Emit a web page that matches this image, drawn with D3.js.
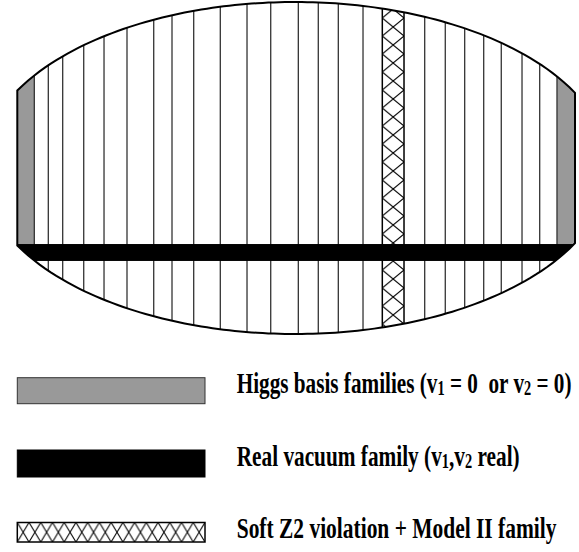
<!DOCTYPE html>
<html>
<head>
<meta charset="utf-8">
<script src="https://cdn.jsdelivr.net/npm/d3@7"></script>
<style>
  body { margin: 0; background: #fff; }
  svg { display: block; }
</style>
</head>
<body>
<svg id="chart" width="579" height="552"></svg>
<script>
// positions across the shape: 0 = left edge, 100 = right edge
var lineXs = [3.05, 5.56, 8.14, 11.91, 15.55, 19.67, 24.46, 27.74, 31.63, 36.40,
              41.19, 45.44, 50.39, 53.97, 57.56, 61.99, 73.05, 76.74, 80.22,
              83.63, 86.78, 90.50, 93.67, 96.77];
var grayStrips = [[0, 3.05], [96.77, 100]];
var hatchStrip = [65.45, 69.34];
// vertical position in ellipse units (1 = top, -1 = bottom)
var realBand = [-0.458, -0.56];

// legend
var legendKinds = ["gray", "black", "hatch"];
var legendLabels = [
  [["Higgs basis families (v", ""], ["1", "sub"], [" = 0  or v", ""], ["2", "sub"], [" = 0)", ""]],
  [["Real vacuum family (v", ""], ["1", "sub"], [",v", ""], ["2", "sub"], [" real)", ""]],
  [["Soft Z2 violation + Model II family", ""]]
];
var legendWidths = [335, 283, 320];

var svg = d3.select("#chart");

// scales
var xScale = d3.scaleLinear().domain([0, 100]).range([17.3, 575]);
var yScale = d3.scaleLinear().domain([1, -1]).range([2, 334]);

// ellipse geometry (pixels)
var cx = 295, ra = 314;
var cy = yScale(0), rb = yScale(-1) - yScale(0);
function half(px) {
  var u = (px - cx) / ra;
  return rb * Math.sqrt(Math.max(0, 1 - u * u));
}
function yTop(px) { return cy - half(px); }
function yBot(px) { return cy + half(px); }

var samples = d3.range(0, 101, 1).map(function(d) { return xScale(d); });
var outline = [];
samples.forEach(function(px) { outline.push([px, yBot(px)]); });
samples.slice().reverse().forEach(function(px) { outline.push([px, yTop(px)]); });
var shapePath = d3.line()(outline) + "Z";

var defs = svg.append("defs");
defs.append("clipPath").attr("id", "shapeClip")
  .append("path").attr("d", shapePath);

function addHatch(id, x, y, w, h) {
  var p = defs.append("pattern")
    .attr("id", id)
    .attr("patternUnits", "userSpaceOnUse")
    .attr("x", x).attr("y", y)
    .attr("width", w).attr("height", h);
  p.append("rect").attr("width", w).attr("height", h).attr("fill", "#fff");
  p.append("path")
    .attr("d", "M0,0L" + w + "," + h + "M" + w + ",0L0," + h)
    .attr("stroke", "#000").attr("stroke-width", 1.1).attr("fill", "none");
}

var hx0 = xScale(hatchStrip[0]), hx1 = xScale(hatchStrip[1]);
addHatch("hatchStrip", hx0, 0, hx1 - hx0, 18);

var inner = svg.append("g").attr("clip-path", "url(#shapeClip)");

// gray Higgs basis strips
inner.selectAll("rect.gray")
  .data(grayStrips)
  .enter().append("rect")
  .attr("class", "gray")
  .attr("x", function(d) { return xScale(d[0]); })
  .attr("width", function(d) { return xScale(d[1]) - xScale(d[0]); })
  .attr("y", 0).attr("height", 340)
  .attr("fill", "#999");

// vertical lines
inner.selectAll("line.v")
  .data(lineXs)
  .enter().append("line")
  .attr("class", "v")
  .attr("x1", function(d) { return xScale(d); })
  .attr("x2", function(d) { return xScale(d); })
  .attr("y1", 0).attr("y2", 340)
  .attr("stroke", "#333").attr("stroke-width", 1.3);

// hatched strip
inner.append("rect")
  .attr("x", hx0).attr("width", hx1 - hx0)
  .attr("y", 0).attr("height", 340)
  .attr("fill", "url(#hatchStrip)")
  .attr("stroke", "#000").attr("stroke-width", 1.5);

// real vacuum band
inner.append("rect")
  .attr("x", 0).attr("width", 579)
  .attr("y", yScale(realBand[0]))
  .attr("height", yScale(realBand[1]) - yScale(realBand[0]))
  .attr("fill", "#000");

// outline
svg.append("path")
  .attr("d", shapePath)
  .attr("fill", "none")
  .attr("stroke", "#000")
  .attr("stroke-width", 2);

// legend
var legendY = [377.7, 450, 522.5];
var legendH = [26, 27, 19.5];
var lx = 17.3, lw = 187.7;
addHatch("hatchLegend", lx, legendY[2], 11.73, legendH[2]);

legendKinds.forEach(function(k, i) {
  svg.append("rect")
    .attr("x", lx).attr("y", legendY[i])
    .attr("width", lw).attr("height", legendH[i])
    .attr("fill", k === "gray" ? "#999" : k === "black" ? "#000" : "url(#hatchLegend)")
    .attr("stroke", k === "gray" ? "#333" : "#000")
    .attr("stroke-width", k === "hatch" ? 1.5 : 1);
});

var baselines = [393.3, 466, 538.3];
legendLabels.forEach(function(parts, i) {
  var g = svg.append("g");
  var t = g.append("text")
    .attr("x", 0).attr("y", 0)
    .style("font-family", "'Liberation Serif', 'Times New Roman', serif")
    .style("font-weight", "bold")
    .style("font-size", "29.5px")
    .style("white-space", "pre")
    .attr("fill", "#000");
  parts.forEach(function(p, j) {
    var ts = t.append("tspan").text(p[0]);
    if (p[1] === "sub") {
      ts.style("font-size", "20px").attr("dy", 2);
    } else if (j > 0 && parts[j - 1][1] === "sub") {
      ts.attr("dy", -2);
    }
  });
  var len = t.node().getComputedTextLength();
  var sx = legendWidths[i] / len;
  g.attr("transform", "translate(236.7," + baselines[i] + ") scale(" + sx + ",1)");
});
</script>
</body>
</html>
